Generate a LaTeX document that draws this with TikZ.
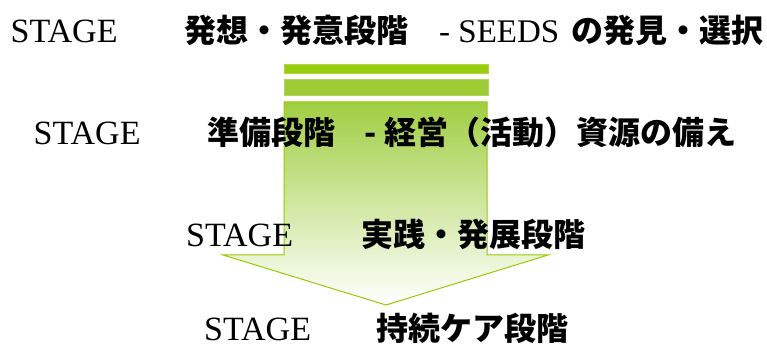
\documentclass[tikz,border=0pt]{standalone}
\usepackage{fontspec}
\setmainfont{Liberation Serif}
\newfontfamily\cjk{Noto Sans CJK JP Black}
\definecolor{bargreenA}{RGB}{155,204,16}
\definecolor{bargreenB}{RGB}{158,204,52}
\definecolor{arrowline}{RGB}{153,204,0}
\definecolor{arrowtop}{RGB}{160,206,66}
\begin{document}
\begin{tikzpicture}[x=1pt,y=1pt,
  serif/.style={anchor=base west,inner sep=0pt,font=\fontsize{34}{36}\selectfont},
  jp/.style={anchor=base west,inner sep=0pt,font=\cjk\fontsize{32}{36}\selectfont},
  bar/.style={draw=#1!80!white,line width=0.8pt,fill=#1}]
\useasboundingbox (0,0) rectangle (767,347);
% bars
\path[bar=bargreenA] (284,274) rectangle (488,283);
\path[bar=bargreenB] (284,252) rectangle (488,268);
% arrow
\draw[draw=arrowline,line width=1pt,top color=arrowtop,bottom color=white]
  (284,245) coordinate (a1) -- (487,245) coordinate (a2) -- (487,92) coordinate (a3)
  -- (548,92) coordinate (a4) -- (386,42) coordinate (a5) -- (223,92) coordinate (a6)
  -- (284,92) coordinate (a7) -- cycle;
% line 1
\node[serif] (s1) at (10.5,304) {STAGE};
\node[jp] (j1a) at (184,304) {発想・発意段階};
\node[serif,font=\fontsize{33}{36}\selectfont] (j1b) at (439,304) {- SEEDS};
\node[jp] (j1c) at (571,304) {の発見・選択};
% line 2
\node[serif] (s2) at (33.5,202) {STAGE};
\node[jp] (j2a) at (207,202) {準備段階};
\node[jp] (j2b) at (364,202) {-};
\node[jp] (j2c) at (384,202) {経営（活動）資源の備え};
% line 3
\node[serif] (s3) at (186,100) {STAGE};
\node[jp] (j3) at (361,100) {実践・発展段階};
% line 4
\node[serif] (s4) at (204,6) {STAGE};
\node[jp] (j4) at (376,6) {持続ケア段階};
\end{tikzpicture}
\end{document}
